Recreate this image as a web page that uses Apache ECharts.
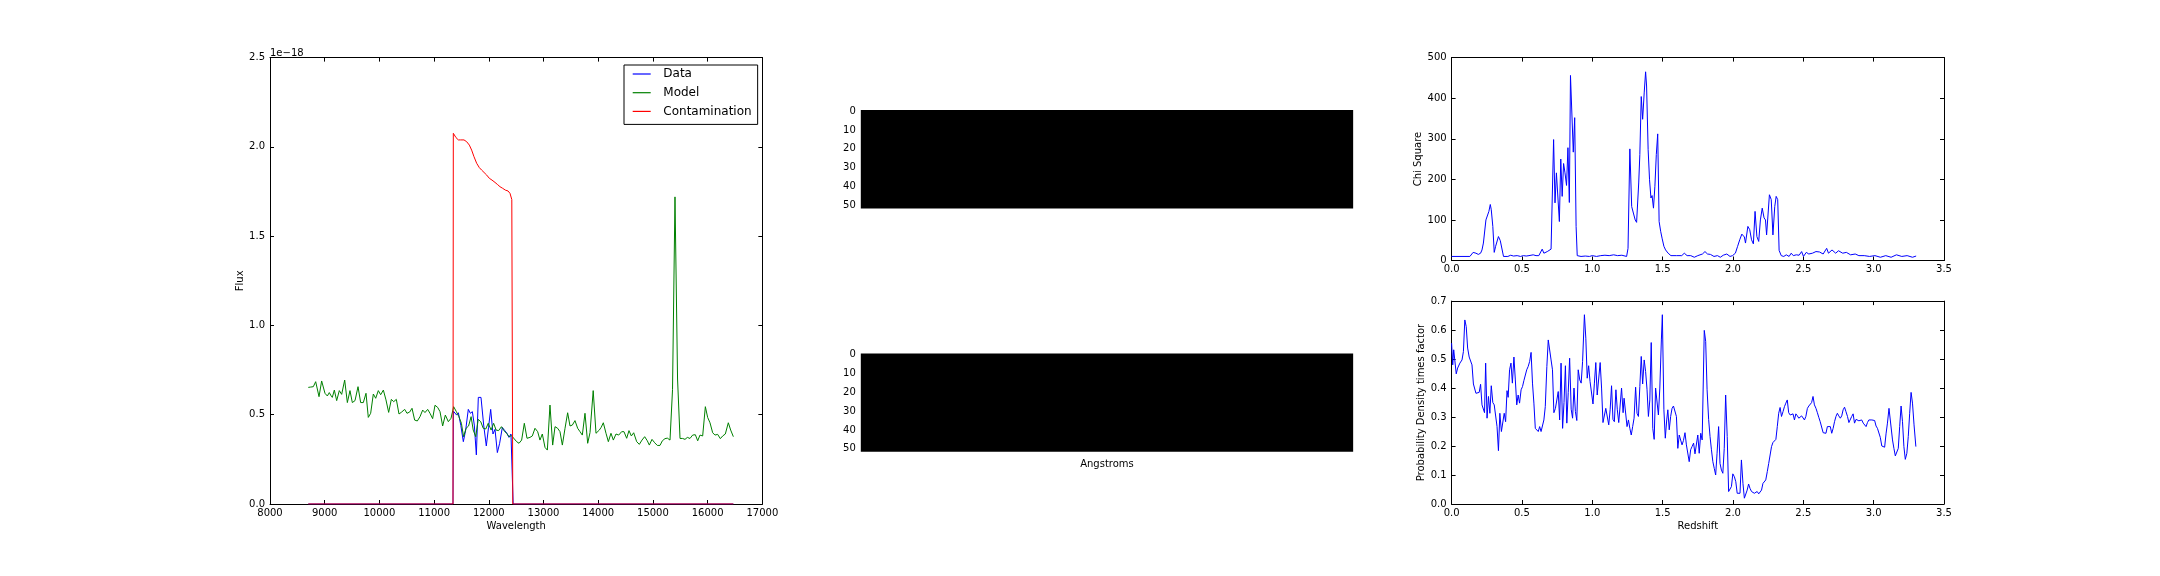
<!DOCTYPE html>
<html>
<head>
<meta charset="utf-8">
<script src="https://cdn.jsdelivr.net/npm/echarts@6/dist/echarts.min.js"></script>
<style>
html,body{margin:0;padding:0;background:#fff;}
#chart{width:2160px;height:576px;}
</style>
</head>
<body>
<div id="chart"></div>
<script>
// ---------- DATA ----------
const legendNames = ['Data', 'Model', 'Contamination'];
// flux in units of 1e-18
const dataSpectrum = [[8700,0],[11345,0],[11352,0.52],[11370,0.527],[11412,0.498],[11443,0.511],[11488,0.44],[11534,0.349],[11577,0.414],[11625,0.530],[11662,0.508],[11699,0.517],[11735,0.442],[11772,0.275],[11808,0.597],[11857,0.597],[11906,0.442],[11954,0.325],[11995,0.43],[12034,0.530],[12076,0.392],[12113,0.418],[12156,0.288],[12198,0.340],[12247,0.429],[12284,0.414],[12332,0.396],[12369,0.373],[12405,0.392],[12436,0.381],[12445,0],[16470,0]];
const modelSpectrum = [[8700,0.653],[8745,0.655],[8792,0.657],[8835,0.685],[8896,0.601],[8944,0.689],[9005,0.620],[9048,0.605],[9084,0.624],[9109,0.610],[9139,0.597],[9176,0.638],[9219,0.579],[9267,0.635],[9310,0.614],[9365,0.694],[9414,0.568],[9462,0.635],[9505,0.568],[9554,0.579],[9609,0.657],[9657,0.568],[9706,0.568],[9755,0.620],[9797,0.485],[9840,0.508],[9889,0.616],[9932,0.592],[9980,0.635],[10023,0.612],[10072,0.638],[10120,0.583],[10169,0.513],[10218,0.586],[10261,0.573],[10309,0.586],[10358,0.504],[10407,0.515],[10462,0.530],[10504,0.508],[10553,0.515],[10596,0.536],[10644,0.470],[10693,0.465],[10742,0.489],[10791,0.526],[10833,0.512],[10882,0.530],[10925,0.508],[10973,0.478],[11016,0.553],[11065,0.541],[11108,0.517],[11156,0.437],[11205,0.498],[11260,0.461],[11309,0.480],[11357,0.545],[11407,0.517],[11453,0.489],[11499,0.452],[11538,0.377],[11584,0.424],[11630,0.437],[11676,0.489],[11715,0.414],[11761,0.377],[11806,0.474],[11852,0.461],[11898,0.424],[11944,0.420],[11989,0.452],[12042,0.414],[12088,0.452],[12133,0.414],[12179,0.411],[12231,0.433],[12277,0.411],[12323,0.396],[12369,0.377],[12414,0.383],[12448,0.381],[12509,0.349],[12552,0.340],[12600,0.358],[12649,0.452],[12698,0.368],[12752,0.373],[12795,0.381],[12844,0.424],[12893,0.405],[12935,0.358],[12978,0.392],[13027,0.317],[13070,0.302],[13118,0.554],[13167,0.330],[13210,0.433],[13258,0.424],[13301,0.405],[13344,0.330],[13393,0.424],[13441,0.511],[13484,0.437],[13527,0.442],[13575,0.467],[13624,0.424],[13667,0.405],[13709,0.386],[13758,0.508],[13807,0.340],[13850,0.400],[13908,0.635],[13959,0.396],[14020,0.414],[14055,0.430],[14093,0.455],[14142,0.396],[14185,0.349],[14233,0.396],[14276,0.358],[14325,0.392],[14374,0.386],[14428,0.405],[14471,0.405],[14520,0.368],[14562,0.411],[14605,0.381],[14648,0.399],[14703,0.349],[14751,0.334],[14800,0.358],[14849,0.377],[14897,0.354],[14934,0.330],[14983,0.362],[15032,0.343],[15080,0.328],[15129,0.328],[15172,0.354],[15220,0.366],[15263,0.369],[15312,0.358],[15358,0.640],[15403,1.720],[15450,0.700],[15495,0.367],[15543,0.367],[15586,0.362],[15629,0.373],[15677,0.367],[15726,0.386],[15775,0.388],[15818,0.354],[15860,0.386],[15909,0.381],[15958,0.545],[16000,0.485],[16043,0.455],[16092,0.399],[16134,0.386],[16183,0.390],[16232,0.366],[16275,0.381],[16323,0.392],[16378,0.455],[16421,0.414],[16470,0.377]];
const contaminationSpectrum = [[8700,0],[11345,0],[11351,2.076],[11400,2.052],[11443,2.039],[11485,2.039],[11546,2.039],[11595,2.029],[11644,2.010],[11686,1.982],[11729,1.945],[11778,1.908],[11826,1.884],[11869,1.870],[11912,1.857],[11961,1.842],[12009,1.824],[12058,1.814],[12113,1.801],[12156,1.790],[12204,1.777],[12253,1.768],[12302,1.758],[12351,1.753],[12387,1.740],[12420,1.705],[12438,0],[16470,0]];

// 2D spectrum images (all-zero -> black); pixel extents
const imageColumnsExtent = [-0.5, 259.5];
const imageRowsExtent = [-0.5, 51.5];
const imageRowTicks = [0, 10, 20, 30, 40, 50];

const chiSquare = [[0,10],[0.13,10],[0.153,20],[0.173,18],[0.19,15],[0.206,18],[0.216,26],[0.226,43],[0.237,47],[0.244,100],[0.254,99],[0.265,121],[0.275,138],[0.282,125],[0.293,84],[0.303,20],[0.313,35],[0.321,36],[0.333,59],[0.346,49],[0.356,46],[0.369,10],[0.379,12],[0.40,10],[0.42,13],[0.44,11],[0.466,12],[0.49,10],[0.51,12],[0.53,11],[0.55,12],[0.58,14],[0.60,12],[0.62,12],[0.644,28],[0.656,18],[0.68,22],[0.694,26],[0.707,28],[0.715,26],[0.725,298],[0.735,142],[0.745,216],[0.753,220],[0.766,96],[0.776,250],[0.786,158],[0.796,239],[0.806,216],[0.817,185],[0.827,278],[0.837,143],[0.845,456],[0.865,267],[0.875,352],[0.885,84],[0.893,12],[0.92,10],[0.95,11],[0.98,10],[1.0,12],[1.03,10],[1.06,12],[1.09,13],[1.12,12],[1.152,14],[1.18,12],[1.21,13],[1.244,10],[1.254,30],[1.267,275],[1.28,133],[1.292,117],[1.305,100],[1.315,94],[1.33,191],[1.338,261],[1.348,404],[1.358,348],[1.369,413],[1.379,465],[1.386,430],[1.397,273],[1.407,199],[1.417,154],[1.425,160],[1.435,129],[1.445,183],[1.455,261],[1.465,312],[1.475,96],[1.486,72],[1.496,55],[1.509,35],[1.521,26],[1.539,18],[1.559,12],[1.60,12],[1.636,12],[1.654,18],[1.674,12],[1.70,12],[1.725,8],[1.75,12],[1.783,16],[1.801,22],[1.819,16],[1.84,15],[1.865,10],[1.89,12],[1.91,8],[1.931,13],[1.956,16],[1.979,10],[1.997,12],[2.017,18],[2.033,35],[2.048,51],[2.063,65],[2.081,58],[2.089,43],[2.106,84],[2.119,76],[2.132,51],[2.145,41],[2.157,121],[2.17,59],[2.183,47],[2.195,100],[2.208,129],[2.221,105],[2.231,100],[2.239,63],[2.259,162],[2.272,150],[2.284,63],[2.297,133],[2.307,158],[2.318,150],[2.328,25],[2.343,12],[2.361,10],[2.379,14],[2.399,10],[2.414,18],[2.429,12],[2.45,14],[2.47,13],[2.488,22],[2.501,10],[2.521,20],[2.539,16],[2.565,18],[2.59,22],[2.615,21],[2.641,16],[2.666,30],[2.679,18],[2.704,26],[2.73,18],[2.75,24],[2.78,18],[2.806,20],[2.836,14],[2.869,16],[2.895,12],[2.933,12],[2.971,10],[3.009,12],[3.048,8],[3.086,12],[3.124,8],[3.162,14],[3.2,10],[3.238,12],[3.276,8],[3.302,11]];

const probabilityDensity = [[0,0.555],[0.008,0.48],[0.015,0.532],[0.023,0.53],[0.033,0.449],[0.043,0.469],[0.059,0.486],[0.074,0.497],[0.084,0.526],[0.094,0.635],[0.104,0.612],[0.114,0.538],[0.125,0.507],[0.135,0.501],[0.145,0.48],[0.155,0.414],[0.163,0.417],[0.173,0.382],[0.186,0.382],[0.196,0.385],[0.206,0.413],[0.216,0.342],[0.226,0.338],[0.234,0.315],[0.242,0.486],[0.252,0.296],[0.262,0.371],[0.272,0.313],[0.282,0.408],[0.293,0.35],[0.303,0.342],[0.313,0.338],[0.323,0.267],[0.333,0.184],[0.343,0.313],[0.354,0.25],[0.364,0.256],[0.374,0.313],[0.384,0.284],[0.394,0.391],[0.402,0.368],[0.412,0.463],[0.422,0.486],[0.432,0.417],[0.443,0.507],[0.453,0.428],[0.463,0.342],[0.473,0.376],[0.483,0.348],[0.494,0.394],[0.504,0.405],[0.514,0.426],[0.524,0.428],[0.534,0.463],[0.544,0.474],[0.555,0.492],[0.565,0.523],[0.575,0.417],[0.585,0.348],[0.595,0.261],[0.605,0.256],[0.616,0.25],[0.626,0.267],[0.636,0.25],[0.646,0.256],[0.656,0.29],[0.666,0.336],[0.677,0.474],[0.687,0.566],[0.697,0.561],[0.707,0.497],[0.717,0.463],[0.727,0.315],[0.738,0.33],[0.748,0.33],[0.758,0.388],[0.768,0.29],[0.778,0.486],[0.789,0.261],[0.799,0.35],[0.809,0.477],[0.819,0.279],[0.829,0.385],[0.839,0.503],[0.85,0.327],[0.86,0.296],[0.87,0.4],[0.88,0.319],[0.89,0.288],[0.9,0.463],[0.911,0.428],[0.921,0.417],[0.931,0.492],[0.944,0.653],[0.954,0.572],[0.964,0.434],[0.974,0.477],[0.984,0.423],[0.995,0.417],[1.005,0.345],[1.015,0.417],[1.025,0.488],[1.035,0.376],[1.046,0.376],[1.056,0.488],[1.066,0.4],[1.076,0.281],[1.086,0.281],[1.096,0.33],[1.107,0.33],[1.117,0.273],[1.127,0.325],[1.137,0.408],[1.147,0.292],[1.157,0.284],[1.168,0.394],[1.178,0.325],[1.188,0.281],[1.198,0.279],[1.208,0.4],[1.219,0.315],[1.226,0.365],[1.236,0.359],[1.247,0.267],[1.257,0.29],[1.267,0.261],[1.277,0.238],[1.287,0.267],[1.297,0.296],[1.308,0.403],[1.318,0.313],[1.328,0.302],[1.338,0.405],[1.348,0.509],[1.358,0.414],[1.369,0.497],[1.379,0.457],[1.389,0.396],[1.399,0.302],[1.409,0.359],[1.419,0.557],[1.43,0.261],[1.44,0.223],[1.45,0.4],[1.46,0.4],[1.47,0.307],[1.48,0.4],[1.491,0.566],[1.498,0.653],[1.509,0.325],[1.519,0.227],[1.529,0.29],[1.537,0.325],[1.547,0.256],[1.557,0.302],[1.567,0.33],[1.577,0.338],[1.587,0.338],[1.598,0.302],[1.608,0.192],[1.618,0.238],[1.628,0.233],[1.638,0.204],[1.648,0.219],[1.659,0.246],[1.669,0.204],[1.679,0.2],[1.689,0.146],[1.699,0.187],[1.709,0.198],[1.72,0.21],[1.73,0.173],[1.74,0.173],[1.75,0.238],[1.76,0.175],[1.771,0.244],[1.781,0.221],[1.796,0.599],[1.806,0.561],[1.816,0.394],[1.827,0.292],[1.837,0.233],[1.847,0.187],[1.857,0.146],[1.867,0.123],[1.877,0.1],[1.887,0.175],[1.898,0.267],[1.908,0.14],[1.918,0.117],[1.928,0.106],[1.938,0.192],[1.948,0.376],[1.959,0.233],[1.969,0.043],[1.979,0.043],[1.989,0.06],[1.999,0.104],[2.01,0.094],[2.02,0.077],[2.03,0.037],[2.04,0.031],[2.05,0.037],[2.06,0.152],[2.071,0.071],[2.081,0.02],[2.091,0.025],[2.101,0.048],[2.111,0.069],[2.121,0.054],[2.132,0.043],[2.142,0.037],[2.152,0.037],[2.162,0.035],[2.172,0.043],[2.183,0.035],[2.193,0.031],[2.203,0.048],[2.213,0.071],[2.223,0.077],[2.233,0.083],[2.244,0.112],[2.254,0.14],[2.264,0.169],[2.274,0.198],[2.284,0.212],[2.294,0.212],[2.305,0.223],[2.315,0.267],[2.325,0.313],[2.335,0.333],[2.345,0.302],[2.356,0.319],[2.366,0.336],[2.376,0.348],[2.386,0.359],[2.396,0.315],[2.407,0.307],[2.417,0.304],[2.427,0.311],[2.437,0.29],[2.447,0.311],[2.458,0.304],[2.468,0.296],[2.478,0.302],[2.488,0.304],[2.498,0.307],[2.508,0.29],[2.518,0.302],[2.529,0.33],[2.539,0.338],[2.549,0.342],[2.559,0.35],[2.569,0.371],[2.579,0.342],[2.59,0.33],[2.6,0.315],[2.61,0.299],[2.62,0.284],[2.63,0.279],[2.641,0.246],[2.651,0.242],[2.661,0.244],[2.671,0.267],[2.681,0.261],[2.692,0.267],[2.702,0.244],[2.712,0.261],[2.722,0.284],[2.732,0.302],[2.742,0.313],[2.752,0.304],[2.763,0.296],[2.773,0.304],[2.783,0.325],[2.793,0.334],[2.803,0.319],[2.814,0.302],[2.824,0.281],[2.834,0.279],[2.844,0.302],[2.854,0.311],[2.864,0.279],[2.875,0.292],[2.885,0.29],[2.895,0.287],[2.905,0.292],[2.915,0.29],[2.926,0.279],[2.936,0.273],[2.946,0.267],[2.956,0.281],[2.966,0.29],[2.976,0.284],[2.987,0.29],[2.997,0.284],[3.007,0.288],[3.017,0.269],[3.027,0.261],[3.037,0.256],[3.047,0.23],[3.058,0.2],[3.068,0.196],[3.078,0.196],[3.088,0.242],[3.098,0.279],[3.109,0.33],[3.116,0.334],[3.134,0.221],[3.144,0.192],[3.154,0.166],[3.165,0.169],[3.175,0.192],[3.185,0.267],[3.195,0.338],[3.205,0.284],[3.215,0.198],[3.225,0.154],[3.236,0.175],[3.246,0.233],[3.256,0.313],[3.266,0.385],[3.276,0.348],[3.287,0.273],[3.3,0.198]];

// ---------- CHART ----------
const FONT = 'DejaVu Sans';
const BLACK = '#000';
const labelStyle = {color: BLACK, fontFamily: FONT, fontSize: 10};

function mainAxis(gridIndex, pos, min, max, interval, fmt, extra) {
  return Object.assign({
    type: 'value', gridIndex, position: pos, min, max, interval,
    axisLine: {show: true, onZero: false, lineStyle: {color: BLACK, width: 1}},
    axisTick: {show: true, inside: true, length: 4, lineStyle: {color: BLACK, width: 1}},
    axisLabel: Object.assign({show: true, formatter: fmt, margin: (pos === 'bottom' ? 4 : 5), showMinLabel: true, showMaxLabel: true}, labelStyle),
    splitLine: {show: false},
    nameTextStyle: {color: BLACK, fontFamily: FONT, fontSize: 10},
    nameMoveOverlap: false
  }, extra || {});
}
function mirrorAxis(gridIndex, pos, min, max, interval) {
  return {
    type: 'value', gridIndex, position: pos, min, max, interval,
    axisLine: {show: true, onZero: false, lineStyle: {color: BLACK, width: 1}},
    axisTick: {show: true, inside: true, length: 4, lineStyle: {color: BLACK, width: 1}},
    axisLabel: {show: false},
    splitLine: {show: false}
  };
}
function imageXAxis(gridIndex, extra) {
  return Object.assign({
    type: 'value', gridIndex, min: imageColumnsExtent[0], max: imageColumnsExtent[1],
    axisLine: {show: false}, axisTick: {show: false}, axisLabel: {show: false}, splitLine: {show: false},
    nameTextStyle: {color: BLACK, fontFamily: FONT, fontSize: 10}, nameMoveOverlap: false
  }, extra || {});
}
function imageYAxis(gridIndex) {
  return {
    type: 'value', gridIndex, inverse: true, min: imageRowsExtent[0], max: imageRowsExtent[1],
    axisLine: {show: false}, axisTick: {show: false},
    axisLabel: Object.assign({show: true, margin: 5, customValues: imageRowTicks, formatter: v => String(Math.round(v))}, labelStyle),
    splitLine: {show: false}
  };
}
const f1 = v => v.toFixed(1);
const f0 = v => String(Math.round(v));

const grids = [
  {left: 270, top: 57.6, width: 492.35, height: 446.4},
  {left: 860.8, top: 110.1, width: 492.35, height: 98.3},
  {left: 860.8, top: 353.4, width: 492.35, height: 98.3},
  {left: 1451.6, top: 57.6, width: 492.4, height: 202.9},
  {left: 1451.6, top: 301.1, width: 492.4, height: 202.9}
];

function imageRender(params, api) {
  const a = api.coord([api.value(0), api.value(2)]);
  const b = api.coord([api.value(1), api.value(3)]);
  return {type: 'rect', shape: {x: Math.min(a[0], b[0]), y: Math.min(a[1], b[1]), width: Math.abs(b[0] - a[0]), height: Math.abs(b[1] - a[1])}, style: {fill: '#000'}};
}
const imageData = [[imageColumnsExtent[0], imageColumnsExtent[1], imageRowsExtent[0], imageRowsExtent[1]]];

function lineSeries(name, data, xi, yi, color) {
  return {name, type: 'line', data, xAxisIndex: xi, yAxisIndex: yi, symbol: 'none', showSymbol: false,
    lineStyle: {color, width: 1}, itemStyle: {color}, emphasis: {disabled: true}, animation: false, clip: true};
}

const option = {
  animation: false,
  backgroundColor: '#fff',
  textStyle: {fontFamily: FONT},
  grid: grids,
  legend: {
    data: legendNames, orient: 'vertical', left: 624, top: 65,
    padding: [2, 6, 6, 8.7], itemGap: 4.7, itemWidth: 18, itemHeight: 1.2, icon: 'rect',
    borderColor: BLACK, borderWidth: 1, backgroundColor: '#fff', borderRadius: 0,
    selectedMode: false,
    textStyle: {color: BLACK, fontFamily: FONT, fontSize: 12, lineHeight: 14, padding: [0, 0, 0, 7.6]}
  },
  graphic: [{type: 'text', left: 270, top: 48, style: {text: '1e\u221218', fill: BLACK, font: '10px "DejaVu Sans"'}}],
  xAxis: [
    mainAxis(0, 'bottom', 8000, 17000, 1000, f0, {name: 'Wavelength', nameLocation: 'middle', nameGap: 17}),
    mirrorAxis(0, 'top', 8000, 17000, 1000),
    imageXAxis(1),
    imageXAxis(2, {name: 'Angstroms', nameLocation: 'middle', nameGap: 8}),
    mainAxis(3, 'bottom', 0, 3.5, 0.5, f1),
    mirrorAxis(3, 'top', 0, 3.5, 0.5),
    mainAxis(4, 'bottom', 0, 3.5, 0.5, f1, {name: 'Redshift', nameLocation: 'middle', nameGap: 17}),
    mirrorAxis(4, 'top', 0, 3.5, 0.5)
  ],
  yAxis: [
    mainAxis(0, 'left', 0, 2.5, 0.5, f1, {name: 'Flux', nameLocation: 'middle', nameGap: 25}),
    mirrorAxis(0, 'right', 0, 2.5, 0.5),
    imageYAxis(1),
    imageYAxis(2),
    mainAxis(3, 'left', 0, 500, 100, f0, {name: 'Chi Square', nameLocation: 'middle', nameGap: 28.5}),
    mirrorAxis(3, 'right', 0, 500, 100),
    mainAxis(4, 'left', 0, 0.7, 0.1, f1, {name: 'Probability Density times factor', nameLocation: 'middle', nameGap: 25.5}),
    mirrorAxis(4, 'right', 0, 0.7, 0.1)
  ],
  series: [
    lineSeries('Data', dataSpectrum, 0, 0, '#0000ff'),
    lineSeries('Model', modelSpectrum, 0, 0, '#008000'),
    lineSeries('Contamination', contaminationSpectrum, 0, 0, '#ff0000'),
    {type: 'custom', xAxisIndex: 2, yAxisIndex: 2, data: imageData, renderItem: imageRender, encode: {x: [0, 1], y: [2, 3]}, animation: false, silent: true},
    {type: 'custom', xAxisIndex: 3, yAxisIndex: 3, data: imageData, renderItem: imageRender, encode: {x: [0, 1], y: [2, 3]}, animation: false, silent: true},
    lineSeries('Chi Square', chiSquare, 4, 4, '#0000ff'),
    lineSeries('Probability Density', probabilityDensity, 6, 6, '#0000ff')
  ]
};

const chart = echarts.init(document.getElementById('chart'), null, {renderer: 'canvas'});
chart.setOption(option);
</script>
</body>
</html>
